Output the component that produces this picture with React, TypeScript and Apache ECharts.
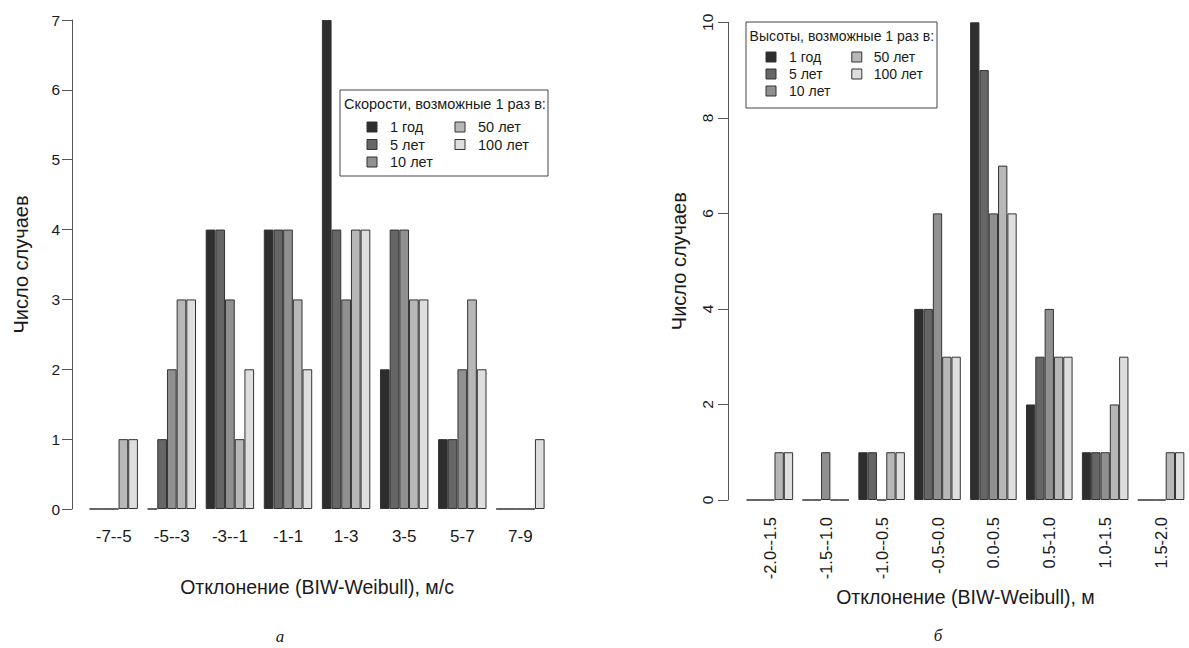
import React, { useEffect, useRef } from "react";
import * as echarts from "echarts";

const seriesNames = ["1 год", "5 лет", "10 лет", "50 лет", "100 лет"];
const seriesColors = ["#2e2e2e", "#666666", "#909090", "#b7b7b7", "#dedede"];

const speedCategories = ["-7--5", "-5--3", "-3--1", "-1-1", "1-3", "3-5", "5-7", "7-9"];
const speed1 = [0, 0, 4, 4, 7, 2, 1, 0];
const speed5 = [0, 1, 4, 4, 4, 4, 1, 0];
const speed10 = [0, 2, 3, 4, 3, 4, 2, 0];
const speed50 = [1, 3, 1, 3, 4, 3, 3, 0];
const speed100 = [1, 3, 2, 2, 4, 3, 2, 1];
const speedTicks = [0, 1, 2, 3, 4, 5, 6, 7];

const heightCategories = ["-2.0--1.5", "-1.5--1.0", "-1.0--0.5", "-0.5-0.0", "0.0-0.5", "0.5-1.0", "1.0-1.5", "1.5-2.0"];
const height1 = [0, 0, 1, 4, 10, 2, 1, 0];
const height5 = [0, 0, 1, 4, 9, 3, 1, 0];
const height10 = [0, 1, 0, 6, 6, 4, 1, 0];
const height50 = [1, 0, 1, 3, 7, 3, 2, 1];
const height100 = [1, 0, 1, 3, 6, 3, 3, 1];
const heightTicks = [0, 2, 4, 6, 8, 10];

const speedSeries = [speed1, speed5, speed10, speed50, speed100];
const heightSeries = [height1, height5, height10, height50, height100];

const FONT = "Liberation Sans, Arial, sans-serif";
const TXT = "#1a1a1a";

function legendGroup(
  x: number, y: number, w: number, h: number, title: string, fs: number,
  titleX: number, titleY: number, rowY0: number, rowH: number,
  sq1: number, sq2: number, tx1: number, tx2: number
) {
  const children: any[] = [
    { type: "rect", shape: { x: 0, y: 0, width: w, height: h }, style: { fill: "#fff", stroke: "#444", lineWidth: 1 } },
    { type: "text", x: titleX, y: titleY, style: { text: title, fontSize: fs, fontFamily: FONT, fill: TXT, verticalAlign: "middle" } },
  ];
  seriesNames.forEach((name, i) => {
    const col = i < 3 ? 0 : 1;
    const row = i < 3 ? i : i - 3;
    const sx = col === 0 ? sq1 : sq2;
    const tx = col === 0 ? tx1 : tx2;
    const sy = rowY0 + row * rowH;
    children.push({ type: "rect", shape: { x: sx - 5, y: sy - 5, width: 10, height: 10 }, style: { fill: seriesColors[i], stroke: "#333", lineWidth: 1 } });
    children.push({ type: "text", x: tx, y: sy, style: { text: name, fontSize: fs, fontFamily: FONT, fill: TXT, verticalAlign: "middle" } });
  });
  return { type: "group", x, y, children };
}

export default function App() {
  const ref = useRef<HTMLDivElement>(null);
  useEffect(() => {
    const chart = echarts.init(ref.current!, null, { renderer: "svg" });
    const axisCommon = {
      axisLine: { show: true, lineStyle: { color: "#555", width: 1 } },
      axisTick: { show: true, inside: false, length: 10, lineStyle: { color: "#555" } },
      splitLine: { show: false },
    };
    const mkSeries = (data: number[][], axisIdx: number) =>
      data.map((d, i) => ({
        name: seriesNames[i],
        type: "bar",
        xAxisIndex: axisIdx,
        yAxisIndex: axisIdx,
        data: d,
        barGap: "0%",
        barCategoryGap: "16.67%",
        itemStyle: { color: seriesColors[i], borderColor: "#333", borderWidth: 1 },
      }));
    chart.setOption({
      animation: false,
      backgroundColor: "#fff",
      textStyle: { fontFamily: FONT },
      grid: [
        { left: 84.65, top: 20, width: 464.8, height: 489 },
        { left: 741.9, top: 22.3, width: 450.4, height: 477.7 },
      ],
      xAxis: [
        {
          type: "category", gridIndex: 0, data: speedCategories,
          axisLine: { show: false }, axisTick: { show: false },
          axisLabel: { fontSize: 17, color: TXT, margin: 19 },
          name: "Отклонение (BIW-Weibull), м/с", nameLocation: "middle", nameGap: 68,
          nameTextStyle: { fontSize: 19.5, color: TXT },
        },
        {
          type: "category", gridIndex: 1, data: heightCategories,
          axisLine: { show: false }, axisTick: { show: false },
          axisLabel: { fontSize: 16.5, color: TXT, margin: 17, rotate: 90 },
          name: "Отклонение (BIW-Weibull), м", nameLocation: "middle", nameGap: 86,
          nameTextStyle: { fontSize: 19.5, color: TXT },
        },
      ],
      yAxis: [
        {
          type: "value", gridIndex: 0, min: speedTicks[0], max: speedTicks[speedTicks.length - 1], interval: 1,
          offset: 12.65, ...axisCommon,
          axisLabel: { fontSize: 15.5, color: TXT, margin: 12 },
          name: "Число случаев", nameLocation: "middle", nameRotate: 90, nameGap: 41,
          nameTextStyle: { fontSize: 20, color: TXT },
        },
        {
          type: "value", gridIndex: 1, min: heightTicks[0], max: heightTicks[heightTicks.length - 1], interval: 2,
          offset: 13.9, ...axisCommon,
          axisLabel: { fontSize: 15.5, color: TXT, margin: 13, rotate: 90 },
          name: "Число случаев", nameLocation: "middle", nameRotate: 90, nameGap: 39,
          nameTextStyle: { fontSize: 20, color: TXT },
        },
      ],
      series: [...mkSeries(speedSeries, 0), ...mkSeries(heightSeries, 1)],
      graphic: [
        legendGroup(340, 90, 208, 86, "Скорости, возможные 1 раз в:", 14.5, 4, 14, 37, 17.5, 32, 120, 50, 138),
        legendGroup(746, 22, 191, 86, "Высоты, возможные 1 раз в:", 14, 3.6, 14, 35, 17, 25, 110.8, 43, 127.7),
        { type: "text", x: 280, y: 636, style: { text: "а", fontSize: 17, fontStyle: "italic", fontFamily: "Liberation Serif, serif", fill: TXT, align: "center", verticalAlign: "middle" } },
        { type: "text", x: 938, y: 635, style: { text: "б", fontSize: 17, fontStyle: "italic", fontFamily: "Liberation Serif, serif", fill: TXT, align: "center", verticalAlign: "middle" } },
      ],
    });
    return () => chart.dispose();
  }, []);
  return <div ref={ref} style={{ position: "fixed", left: 0, top: 0, width: 1189, height: 648 }} />;
}
